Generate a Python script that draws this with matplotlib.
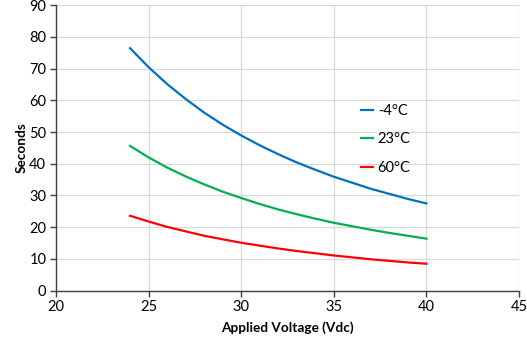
import matplotlib
matplotlib.use("Agg")
import matplotlib.pyplot as plt

voltage = [24, 25, 26, 27, 28, 29, 30, 31, 32, 33, 34, 35, 36, 37, 38, 39, 40]
t_minus4 = [76.4, 70.4, 65.1, 60.4, 56.1, 52.3, 48.9, 45.8, 43.0, 40.4, 38.1, 35.9, 34.0, 32.1, 30.5, 28.9, 27.5]
t_23 = [45.6, 42.0, 38.8, 36.0, 33.5, 31.2, 29.2, 27.3, 25.6, 24.1, 22.7, 21.4, 20.3, 19.2, 18.2, 17.3, 16.4]
t_60 = [23.6, 21.8, 20.1, 18.7, 17.3, 16.2, 15.1, 14.2, 13.3, 12.5, 11.8, 11.1, 10.5, 9.9, 9.4, 8.9, 8.5]
labels = ["-4°C", "23°C", "60°C"]
colors = ["#0070C0", "#00B050", "#FF0000"]
xticks = [20, 25, 30, 35, 40, 45]
yticks = [0, 10, 20, 30, 40, 50, 60, 70, 80, 90]

plt.rcParams['font.family'] = ['Lato', 'DejaVu Sans']
fig = plt.figure(figsize=(5.27, 3.6), dpi=100)
ax = fig.add_axes([0.1063, 0.1925, 0.8787, 0.7935])

for ys, lab, c in zip([t_minus4, t_23, t_60], labels, colors):
    ax.plot(voltage, ys, color=c, lw=1.6, label=lab)

ax.set_xlim(20, 45)
ax.set_ylim(0, 90)
ax.set_xticks(xticks)
ax.set_yticks(yticks)
ax.grid(True, color="#D9D9D9", lw=0.9)
ax.set_axisbelow(True)
for s in ["top", "right"]:
    ax.spines[s].set_visible(False)
for s in ["left", "bottom"]:
    ax.spines[s].set_color("#404040")
    ax.spines[s].set_linewidth(1.0)
ax.tick_params(axis="both", direction="out", length=4, width=1, color="#404040",
               labelsize=10.5, labelcolor="black", pad=3)
ax.set_xlabel("Applied Voltage (Vdc)", fontsize=9.8, fontweight="bold", labelpad=5)
ax.set_ylabel("Seconds", fontsize=9.8, fontweight="bold", labelpad=1)

leg = ax.legend(loc="upper left", bbox_to_anchor=(0.63, 0.70), frameon=False,
                fontsize=10.5, handlelength=0.8, handletextpad=0.35, labelspacing=1.0)

fig.savefig("out.png", dpi=100)
